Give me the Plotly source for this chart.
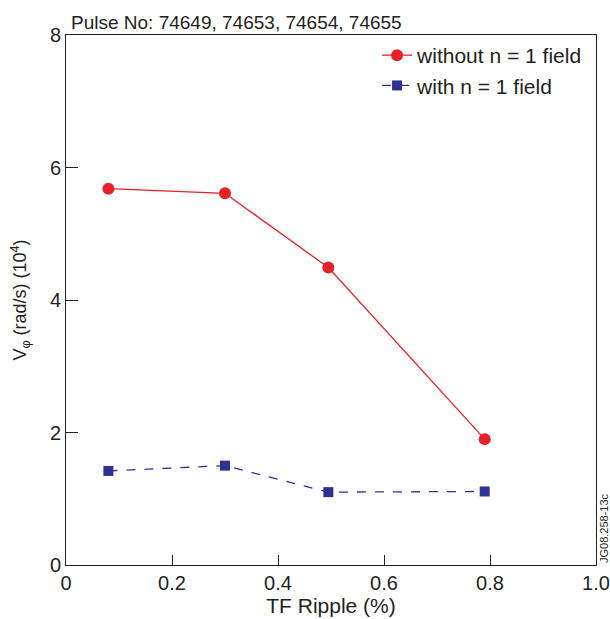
import plotly.graph_objects as go

ripple = [0.08, 0.30, 0.495, 0.79]
without_field = [5.68, 5.61, 4.49, 1.90]
with_field = [1.42, 1.50, 1.10, 1.11]
x_ticks = [0, 0.2, 0.4, 0.6, 0.8, 1.0]
x_ticklabels = ["0", "0.2", "0.4", "0.6", "0.8", "1.0"]
y_ticks = [0, 2, 4, 6, 8]

RED = "#e8202a"
BLUE = "#2e3192"
FONT = "Liberation Sans, Arial, sans-serif"

fig = go.Figure()
fig.add_trace(go.Scatter(
    x=ripple, y=without_field, mode="lines+markers", name="without n = 1 field",
    line=dict(color=RED, width=1.3),
    marker=dict(symbol="circle", size=12, color=RED),
))
fig.add_trace(go.Scatter(
    x=ripple, y=with_field, mode="lines+markers", name="with n = 1 field",
    line=dict(color=BLUE, width=1.3, dash="dash"),
    marker=dict(symbol="square", size=10, color=BLUE),
))

fig.update_layout(
    width=610, height=619, autosize=False,
    margin=dict(l=66, r=14, t=35, b=54),
    paper_bgcolor="white", plot_bgcolor="white",
    font=dict(family=FONT, color="#231f20", size=20),
    showlegend=True,
    legend=dict(x=0.985, y=1.0, xanchor="right", yanchor="top",
                bgcolor="rgba(0,0,0,0)", font=dict(size=21, color="#231f20"),
                tracegroupgap=0, itemwidth=30),
    xaxis=dict(range=[0, 1.0], tickvals=x_ticks, ticktext=x_ticklabels,
               ticks="inside", ticklen=10, tickcolor="#231f20", tickwidth=1,
               showline=True, linecolor="#231f20", linewidth=1, mirror=True,
               showgrid=False, zeroline=False, automargin=False,
               title=dict(text="TF Ripple (%)", font=dict(size=21), standoff=3),
               tickfont=dict(size=20)),
    yaxis=dict(range=[0, 8], tickvals=y_ticks,
               ticks="inside", ticklen=12, tickcolor="#231f20", tickwidth=1,
               showline=True, linecolor="#231f20", linewidth=1, mirror=True,
               showgrid=False, zeroline=False, automargin=False,
               title=dict(text="V<sub>φ</sub> (rad/s) (10<sup>4</sup>)", font=dict(size=18), standoff=18),
               tickfont=dict(size=20)),
)

fig.add_annotation(text="Pulse No: 74649, 74653, 74654, 74655",
                   xref="paper", yref="paper", x=0.005, y=1.0, xanchor="left", yanchor="bottom",
                   yshift=0, showarrow=False, font=dict(size=19, color="#231f20"))
fig.add_annotation(text="JG08.258-13c", xref="paper", yref="paper",
                   x=1.0, y=0.0, xanchor="left", yanchor="bottom", xshift=0,
                   textangle=-90, showarrow=False, font=dict(size=11, color="#231f20"))

fig.write_html("out.html", config={"displayModeBar": False},
               post_script="document.body.style.margin='0';document.body.style.overflow='hidden';")
